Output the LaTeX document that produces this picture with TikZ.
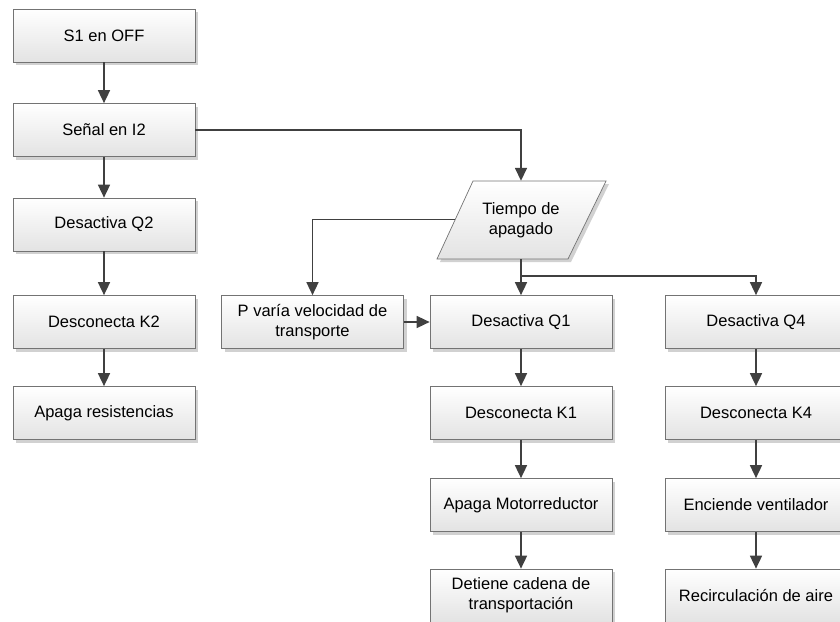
\documentclass[tikz,border=0pt]{standalone}
\usepackage{fontspec}
\setmainfont{Liberation Sans}
\usetikzlibrary{shadows,arrows.meta}

\begin{document}
\begin{tikzpicture}[x=1pt,y=-1pt,
  skin/.style={draw=black!55, line width=0.7pt, top color=white, bottom color=black!11,
    drop shadow={shadow xshift=3pt, shadow yshift=-3pt, fill=black!18, opacity=1}},
  label/.style={inner sep=2pt, align=center, font=\fontsize{16.5}{20}\selectfont},
  box/.style={skin, label, rectangle, minimum width=182pt, minimum height=53pt},
  flow/.style={draw=black!75, line width=1.6pt, -{Triangle[length=13pt,width=12pt]}}
]
\useasboundingbox (0,0) rectangle (840,621);
\clip (0,0) rectangle (840,621);

% left column
\node[box] (s1)  at (104,35.5)  {S1 en OFF};
\node[box] (sig) at (104,130)   {Señal en I2};
\node[box] (q2)  at (104,224.5) {Desactiva Q2};
\node[box] (k2)  at (104,322)   {Desconecta K2};
\node[box] (ar)  at (104,413)   {Apaga resistencias};

% data block: slanted outline drawn as a path, text node on top
\path[skin] (437,259) -- (473,181) -- (606,181) -- (568,259) -- cycle;
\node[label, minimum width=131pt, minimum height=78pt] (tp) at (521,220) {Tiempo de\\apagado};
\coordinate (tpl) at (455,219.5);

% speed branch
\node[box] (pv) at (312.5,322) {P varía velocidad de\\transporte};

% motor column
\node[box] (q1) at (521,322)   {Desactiva Q1};
\node[box] (k1) at (521,413)   {Desconecta K1};
\node[box] (am) at (521,505)   {Apaga Motorreductor};
\node[box] (dc) at (521,595.5) {Detiene cadena de\\transportación};

% fan column
\node[box] (q4) at (756,322)   {Desactiva Q4};
\node[box] (k4) at (756,413)   {Desconecta K4};
\node[box] (ev) at (756,505)   {Enciende ventilador};
\node[box] (rc) at (756,595.5) {Recirculación de aire};

% connectors
\draw[flow] (s1) -- (sig);
\draw[flow] (sig) -- (q2);
\draw[flow] (q2) -- (k2);
\draw[flow] (k2) -- (ar);
\draw[flow] (sig.east) -| (tp.north);
\draw[flow] (tpl) -| (pv.north);
\draw[flow] (pv) -- (q1);
\draw[flow] (tp.south) -- (q1);
\coordinate (jn) at (521,276);
\draw[flow] (jn) -| (q4.north);
\draw[flow] (q1) -- (k1);
\draw[flow] (k1) -- (am);
\draw[flow] (am) -- (dc);
\draw[flow] (q4) -- (k4);
\draw[flow] (k4) -- (ev);
\draw[flow] (ev) -- (rc);
\end{tikzpicture}
\end{document}
